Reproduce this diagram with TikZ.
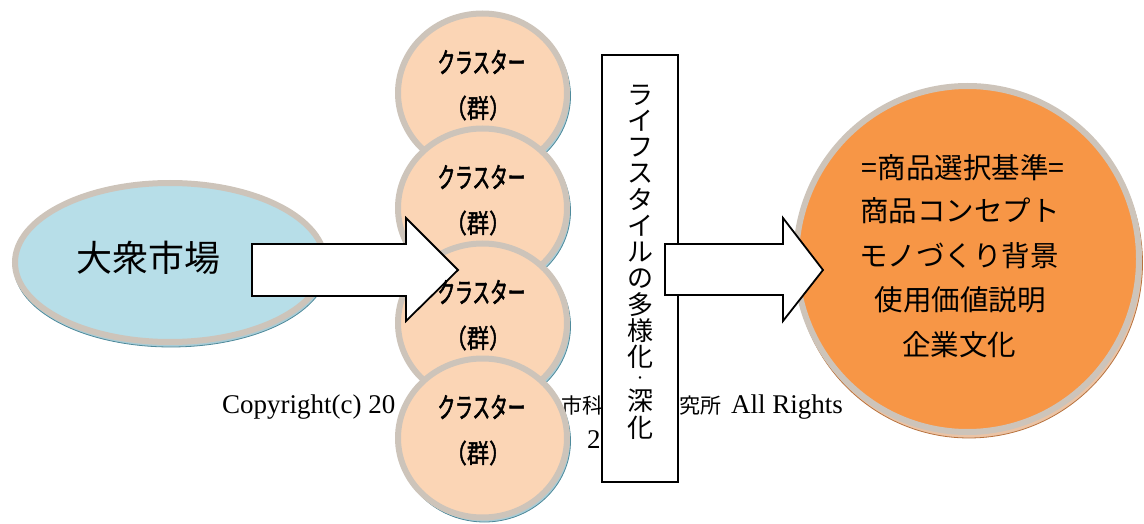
\documentclass[tikz,border=0pt]{standalone}
\usepackage{fontspec}
\setmainfont{Liberation Serif}
\newfontfamily\jp{Noto Sans CJK JP}
\newfontfamily\jpn[FakeStretch=0.63,FakeBold=2]{Noto Sans CJK JP}
\newfontfamily\jpb[FakeStretch=0.85,FakeBold=1.5]{Noto Sans CJK JP}
\usetikzlibrary{shapes.geometric}
\definecolor{ringgray}{HTML}{CDC4BA}
\definecolor{aquafill}{HTML}{B7DEE8}
\definecolor{peach}{HTML}{FBD5B5}
\definecolor{orangefill}{HTML}{F79646}
\definecolor{tealfill}{HTML}{A9CCD6}
\definecolor{tealline}{HTML}{4F8A9B}
\definecolor{brownfill}{HTML}{EBC3A4}
\definecolor{brownline}{HTML}{B8733F}
\tikzset{
  ring/.style={ellipse, draw=ringgray, line width=6pt, inner sep=0pt},
  tealshadow/.style={ellipse, inner sep=0pt, line width=0.8pt, fill=tealfill, draw=tealline},
  brownshadow/.style={ellipse, inner sep=0pt, line width=0.8pt, fill=brownfill, draw=brownline},
  blockarrow/.style={draw=black, fill=white, line width=1.8pt, line join=miter},
  copytxt/.style={anchor=base west, inner sep=0pt, font=\fontsize{27}{30}\selectfont},
  copyjp/.style={anchor=base west, inner sep=0pt, font=\jp\fontsize{21}{24}\selectfont},
  clustxt/.style={inner sep=0pt, font=\jpn\fontsize{28}{30}\selectfont},
  grptxt/.style={inner sep=0pt, font=\jpb\fontsize{26}{28}\selectfont},
  verttxt/.style={inner sep=0pt, font=\jp\fontsize{26}{28}\selectfont},
  bigtxt/.style={inner sep=0pt, font=\jp\fontsize{28.5}{32}\selectfont},
}
\begin{document}
\begin{tikzpicture}[x=1pt,y=-1pt]
\useasboundingbox (0,0) rectangle (1144,524);
\fill[white] (0,0) rectangle (1144,524);

% copyright line (partly hidden)
\node[copytxt] (cp1) at (222,413) {Copyright(c) 20};
\node[copyjp] (cp2) at (561,413) {市科};
\node[copyjp] (cp3) at (679,413) {究所};
\node[copytxt] (cp4) at (731,413) {All Rights};
\node[copytxt] (cp5) at (587,448) {2};

% left ellipse
\node[tealshadow, minimum width=314pt, minimum height=162pt] (mkts) at (171,266) {};
\node[ring, fill=aquafill, minimum width=310pt, minimum height=159pt] (mkt) at (170,262.5) {};
\node[bigtxt, font=\jp\fontsize{36}{40}\selectfont] (mkttxt) at (148.5,258) {大衆市場};

% cluster circles
\foreach \i/\cy in {1/93,2/208,3/323,4/438}{
  \node[tealshadow, minimum width=172pt, minimum height=162pt] (cs\i) at (484.5,{\cy+3}) {};
  \node[ring, fill=peach, minimum width=169pt, minimum height=159pt] (c\i) at (482.5,\cy) {};
}

% arrow 1
\draw[blockarrow] (252,244) -- (406,244) -- (406,218) -- (458,270) -- (406,321) -- (406,296) -- (252,296) -- cycle;

% cluster texts
\foreach \i/\cy in {1/93,2/208,3/323,4/438}{
  \node[clustxt] (ct\i) at (481.5,{\cy-31}) {クラスター};
  \node[grptxt] (cg\i) at (478,{\cy+15}) {（群）};
}

% vertical box
\node[draw=black, fill=white, line width=1.5pt, minimum width=76pt, minimum height=427pt, inner sep=0pt] (vbox) at (640,268.5) {};
\foreach \ch [count=\i] in {ラ,イ,フ,ス,タ,イ,ル,の,多,様,化}{
  \node[verttxt] (v\i) at (640,{95+(\i-1)*26.2}) {\ch};
}
\node[inner sep=0pt, font=\jp\fontsize{12}{14}\selectfont] (vdot) at (640,380) {・};
\node[verttxt] (v12) at (640,401) {深};
\node[verttxt] (v13) at (640,428) {化};

% right circle
\node[brownshadow, minimum width=347pt, minimum height=350pt] (crits) at (969,263) {};
\node[ring, fill=orangefill, minimum width=343pt, minimum height=346pt] (crit) at (967.5,259) {};
\node[bigtxt] (r1) at (963,168) {=商品選択基準=};
\node[bigtxt] (r2) at (960,211) {商品コンセプト};
\node[bigtxt] (r3) at (959,256) {モノづくり背景};
\node[bigtxt] (r4) at (960,300) {使用価値説明};
\node[bigtxt] (r5) at (959,345) {企業文化};

% arrow 2
\draw[blockarrow] (665,244) -- (783,244) -- (783,218) -- (823,270) -- (783,321) -- (783,295) -- (665,295) -- cycle;
\end{tikzpicture}
\end{document}
